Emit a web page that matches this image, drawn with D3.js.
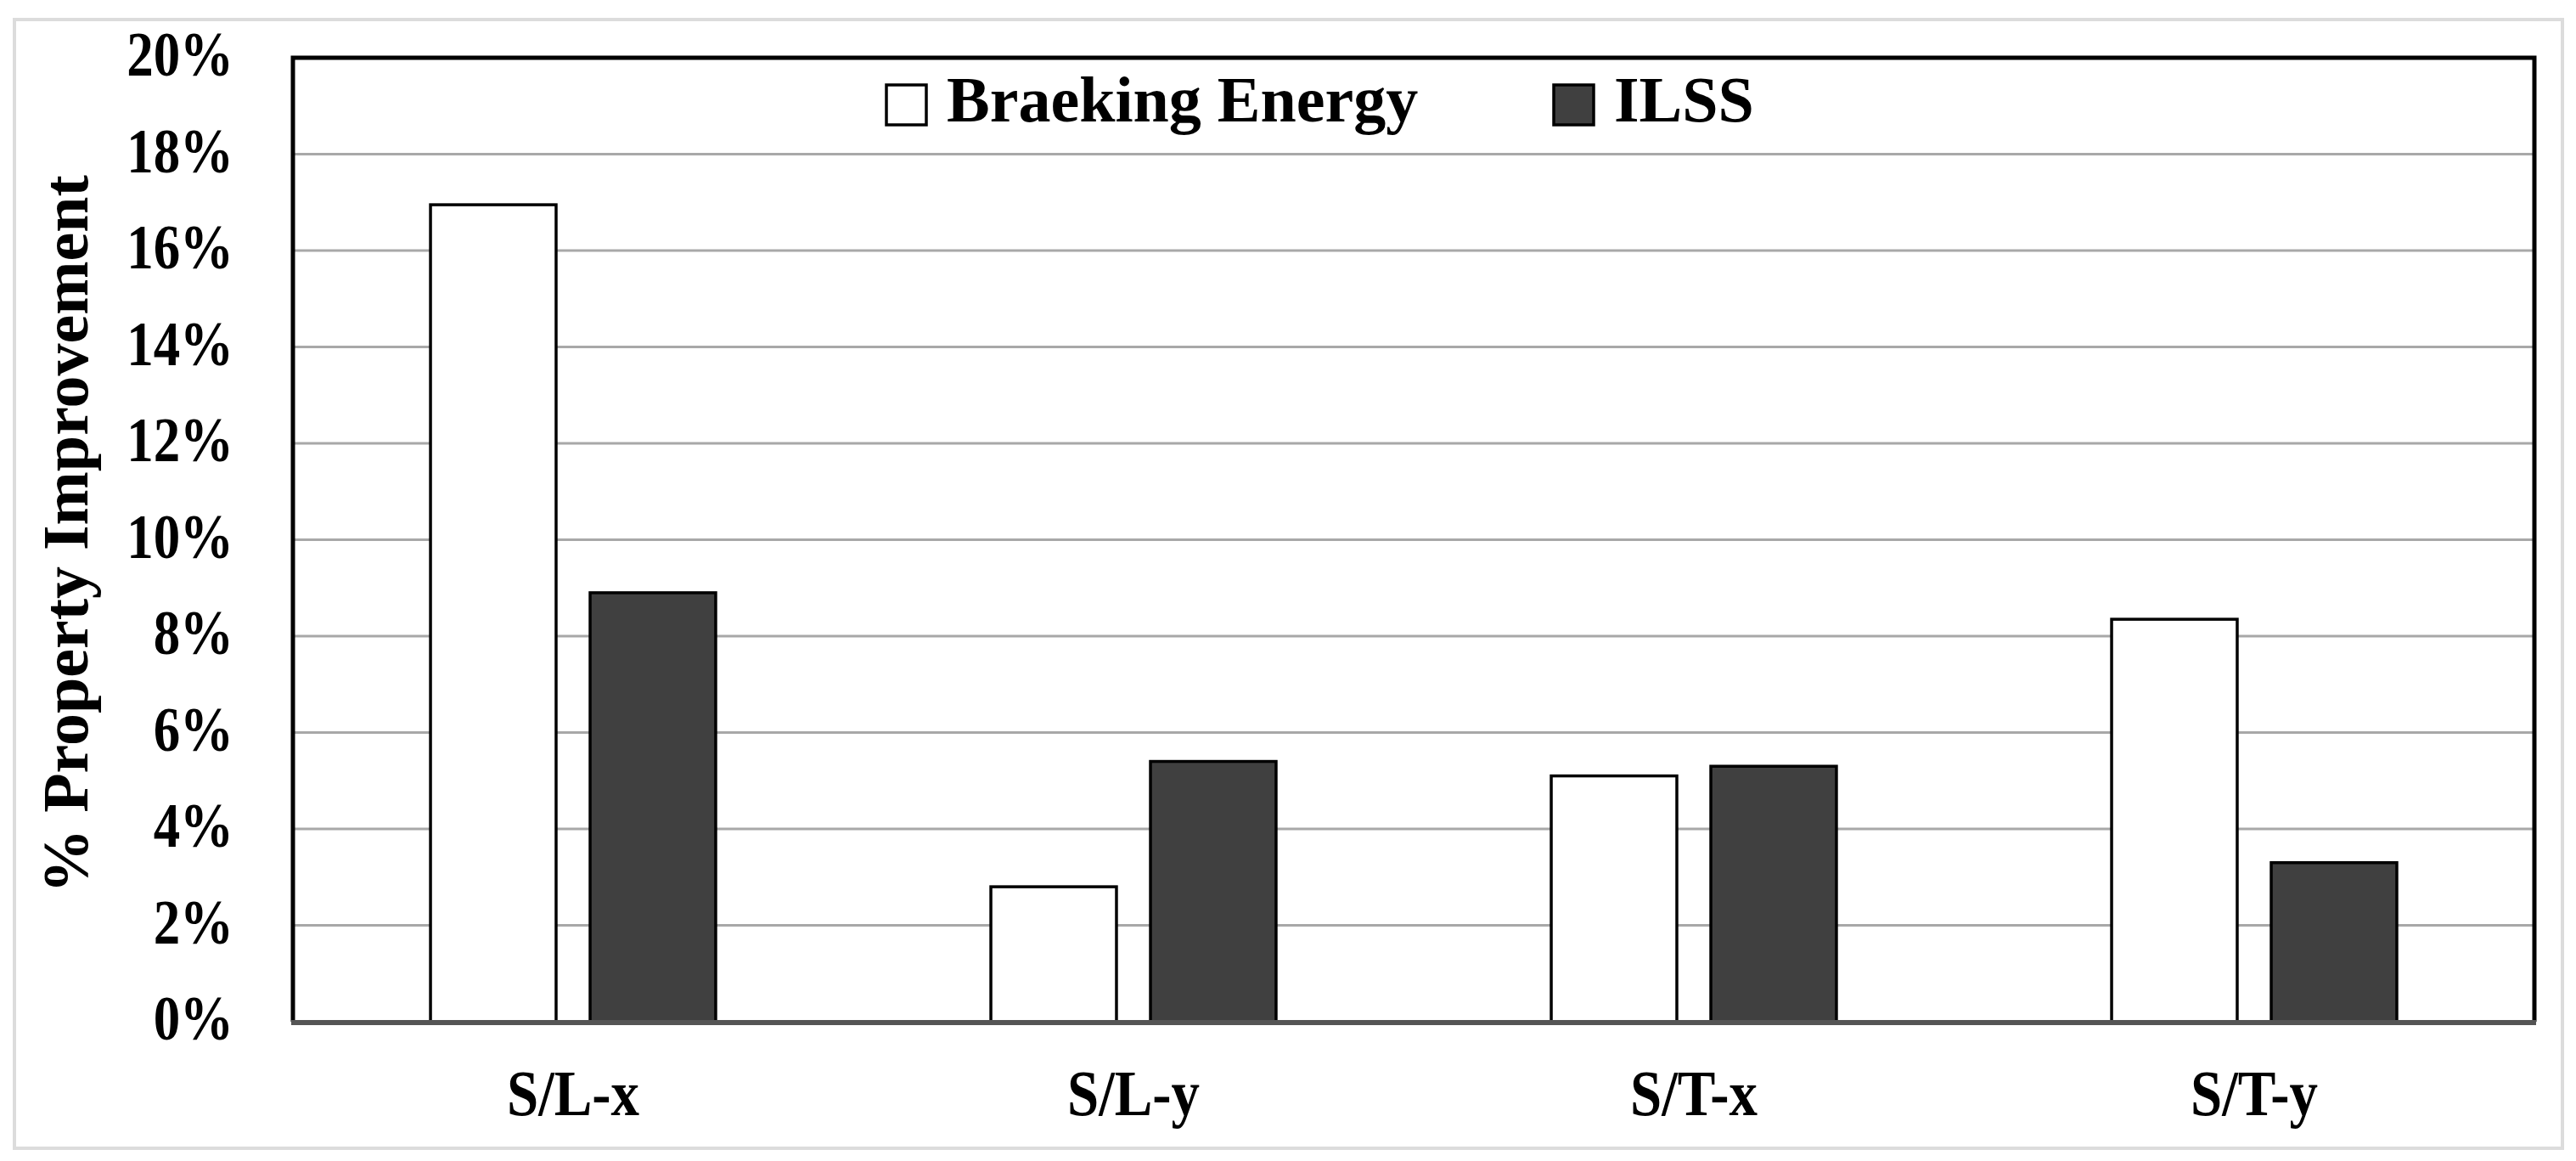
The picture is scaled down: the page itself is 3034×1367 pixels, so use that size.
<!DOCTYPE html>
<html>
<head>
<meta charset="utf-8">
<script src="https://cdn.jsdelivr.net/npm/d3@7"></script>
<style>
  body { margin: 0; background: #fff; }
  text { font-family: "Liberation Serif", "Times New Roman", serif; font-weight: bold; fill: #000; }
</style>
</head>
<body>
<svg id="chart" width="3034" height="1367"></svg>
<script>
// data (percent)
const categories = ["S/L-x", "S/L-y", "S/T-x", "S/T-y"]
const seriesNames = ["Braeking Energy", "ILSS"]
const breakingEnergy = [16.95, 2.8, 5.1, 8.35]
const ilss = [8.9, 5.4, 5.3, 3.3]
const yTicks = [0, 2, 4, 6, 8, 10, 12, 14, 16, 18, 20]

const seriesValues = [breakingEnergy, ilss]
const seriesFill = ["#ffffff", "#404040"]

const svg = d3.select("#chart")

// plot box
const plot = {left: 345, right: 2985, top: 68, bottom: 1203}

const x0 = d3.scaleBand()
    .domain(categories)
    .range([plot.left, plot.right])
    .padding(0)
const x1 = d3.scaleBand()
    .domain(seriesNames)
    .range([0, x0.bandwidth()])
    .paddingInner(0.213)
    .paddingOuter(0.862)
const y = d3.scaleLinear()
    .domain([0, 20])
    .range([plot.bottom, plot.top])

// outer light frame
svg.append("rect")
    .attr("x", 17)
    .attr("y", 23)
    .attr("width", 3001)
    .attr("height", 1329)
    .attr("fill", "none")
    .attr("stroke", "#dcdcdc")
    .attr("stroke-width", 4)

// gridlines
svg.append("g")
    .selectAll("line")
    .data(yTicks.filter(d => d > 0 && d < 20))
    .enter()
    .append("line")
    .attr("x1", plot.left)
    .attr("x2", plot.right)
    .attr("y1", d => y(d))
    .attr("y2", d => y(d))
    .attr("stroke", "#a8a8a8")
    .attr("stroke-width", 3)

// y axis labels
const yAxis = svg.append("g")
    .attr("transform", `translate(${plot.left},0)`)
    .call(d3.axisLeft(y).tickValues(yTicks).tickSize(0).tickFormat(d => d + "%"))
yAxis.select(".domain").remove()
yAxis.selectAll("text")
    .attr("font-family", "Liberation Serif")
    .attr("font-size", "74px")
    .attr("font-weight", "bold")
    .attr("fill", "#000")
    .attr("x", -70 / 0.85)
    .attr("dy", "0.28em")
    .attr("transform", "scale(0.85,1)")

// bars
const groups = svg.append("g")
    .selectAll("g")
    .data(categories)
    .enter()
    .append("g")
    .attr("transform", d => `translate(${x0(d)},0)`)
groups.selectAll("rect")
    .data((c, i) => seriesNames.map((s, j) => ({s: s, j: j, v: seriesValues[j][i]})))
    .enter()
    .append("rect")
    .attr("x", d => x1(d.s))
    .attr("y", d => y(d.v))
    .attr("width", x1.bandwidth())
    .attr("height", d => y(0) - y(d.v))
    .attr("fill", d => seriesFill[d.j])
    .attr("stroke", "#000")
    .attr("stroke-width", 3.5)

// category labels
const xAxis = svg.append("g")
    .attr("transform", `translate(0,${plot.bottom})`)
    .call(d3.axisBottom(x0).tickSize(0))
xAxis.select(".domain").remove()
xAxis.selectAll(".tick text")
    .attr("font-family", "Liberation Serif")
    .attr("font-size", "76px")
    .attr("font-weight", "bold")
    .attr("fill", "#000")
    .attr("y", 110)
    .attr("dy", 0)
    .attr("transform", "scale(0.88,1)")
xAxis.selectAll(".tick")
    .attr("transform", d => `translate(${x0(d) + x0.bandwidth() / 2},0)`)

// plot border
svg.append("path")
    .attr("d", `M${plot.left},${plot.bottom} L${plot.left},${plot.top} L${plot.right},${plot.top} L${plot.right},${plot.bottom}`)
    .attr("fill", "none")
    .attr("stroke", "#000")
    .attr("stroke-width", 5)
svg.append("line")
    .attr("x1", plot.left - 2)
    .attr("x2", plot.right + 2)
    .attr("y1", plot.bottom + 1)
    .attr("y2", plot.bottom + 1)
    .attr("stroke", "#555")
    .attr("stroke-width", 6)

// legend
const legendData = [
    {name: seriesNames[0], fill: seriesFill[0], x: 1044},
    {name: seriesNames[1], fill: seriesFill[1], x: 1830},
]
const legend = svg.append("g")
legend.selectAll("rect")
    .data(legendData)
    .enter()
    .append("rect")
    .attr("x", d => d.x)
    .attr("y", 100)
    .attr("width", 47)
    .attr("height", 47)
    .attr("fill", d => d.fill)
    .attr("stroke", "#000")
    .attr("stroke-width", 3.5)
legend.selectAll("text")
    .data(legendData)
    .enter()
    .append("text")
    .attr("x", d => d.x + 71)
    .attr("y", 143)
    .attr("font-size", "76px")
    .text(d => d.name)

// y title
svg.append("text")
    .attr("transform", "translate(103,629) rotate(-90)")
    .attr("text-anchor", "middle")
    .attr("font-size", "76px")
    .text("% Property Improvement")
</script>
</body>
</html>
